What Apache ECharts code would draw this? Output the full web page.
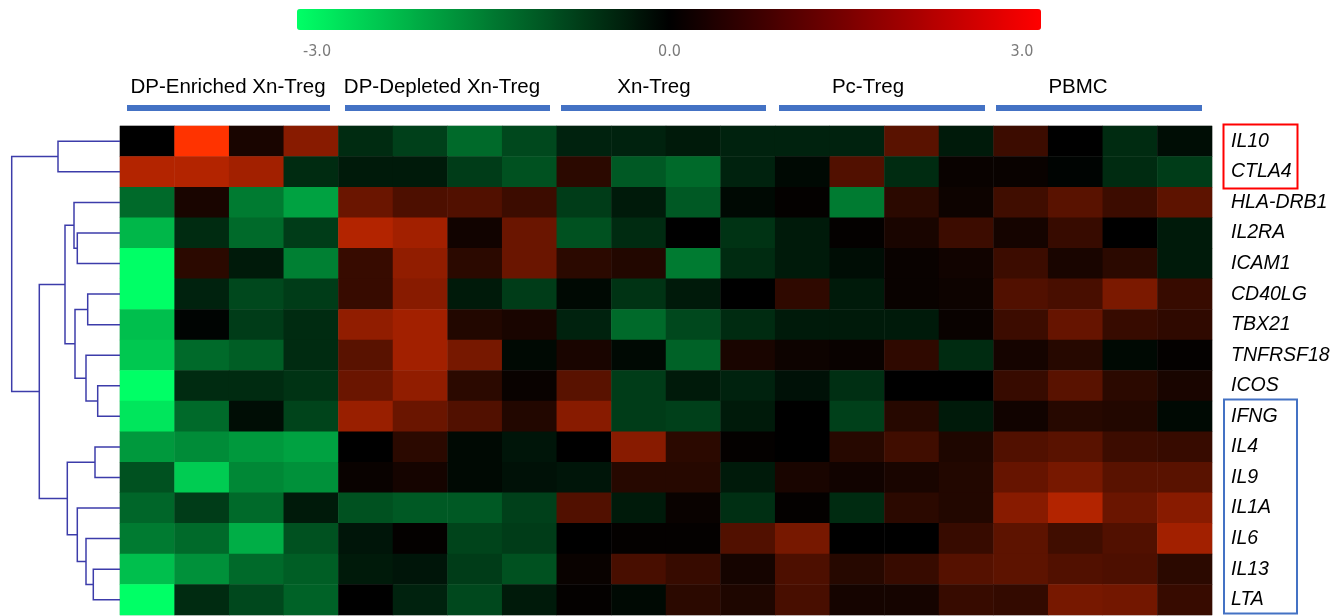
<!DOCTYPE html>
<html>
<head>
<meta charset="utf-8">
<script src="https://cdn.jsdelivr.net/npm/echarts@6/dist/echarts.min.js"></script>
<style>
  html, body { margin: 0; padding: 0; background: #fff; }
  #chart { width: 1344px; height: 616px; }
</style>
</head>
<body>
<div id="chart"></div>
<script>
// genes top → bottom (dendrogram order)
const genes = ["IL10", "CTLA4", "HLA-DRB1", "IL2RA", "ICAM1", "CD40LG", "TBX21", "TNFRSF18",
  "ICOS", "IFNG", "IL4", "IL9", "IL1A", "IL6", "IL13", "LTA"];
const groups = ["DP-Enriched Xn-Treg", "DP-Depleted Xn-Treg", "Xn-Treg", "Pc-Treg", "PBMC"];
const samples = groups.flatMap((g) => [1, 2, 3, 4].map((i) => g + " " + i));

// log2 expression, 4 replicates per group
const IL10     = [0, 3.0, 0.3, 1.6, -0.5, -0.75, -1.25, -0.85, -0.4, -0.4, -0.3, -0.4, -0.4, -0.4, 1.05, -0.3, 0.7, 0.0, -0.5, -0.15];
const CTLA4    = [2.1, 2.1, 1.9, -0.5, -0.3, -0.3, -0.7, -0.95, 0.5, -1.05, -1.25, -0.4, -0.1, 0.95, -0.5, 0.1, 0.1, -0.05, -0.5, -0.7];
const HLA_DRB1 = [-1.25, 0.3, -1.45, -1.9, 1.25, 0.9, 0.95, 0.7, -0.7, -0.3, -1.05, -0.1, 0.05, -1.45, 0.5, 0.15, 0.75, 1.05, 0.7, 1.1];
const IL2RA    = [-2.15, -0.5, -1.25, -0.7, 2.1, 1.9, 0.2, 1.25, -0.95, -0.5, 0.0, -0.6, -0.3, 0.05, 0.3, 0.7, 0.25, 0.65, 0.0, -0.3];
const ICAM1    = [-3.0, 0.5, -0.3, -1.5, 0.65, 1.7, 0.5, 1.25, 0.5, 0.4, -1.45, -0.5, -0.3, -0.15, 0.1, 0.2, 0.7, 0.3, 0.5, -0.3];
const CD40LG   = [-3.0, -0.4, -0.85, -0.7, 0.65, 1.6, -0.3, -0.7, -0.1, -0.6, -0.3, 0.0, 0.55, -0.3, 0.1, 0.15, 0.95, 0.85, 1.45, 0.65];
const TBX21    = [-2.25, -0.05, -0.7, -0.5, 1.7, 1.9, 0.4, 0.3, -0.4, -1.25, -0.85, -0.5, -0.3, -0.3, -0.3, 0.1, 0.7, 1.2, 0.65, 0.55];
const TNFRSF18 = [-2.35, -1.25, -1.1, -0.5, 1.05, 1.9, 1.4, -0.1, 0.3, -0.1, -1.15, 0.3, 0.15, 0.1, 0.55, -0.5, 0.25, 0.45, -0.1, 0.05];
const ICOS     = [-3.0, -0.5, -0.5, -0.6, 1.25, 1.7, 0.5, 0.1, 1.05, -0.7, -0.3, -0.4, -0.2, -0.55, 0.0, 0.0, 0.65, 1.05, 0.5, 0.3];
const IFNG     = [-2.7, -1.25, -0.15, -0.8, 1.8, 1.25, 0.95, 0.4, 1.6, -0.7, -0.75, -0.3, 0.0, -0.75, 0.45, -0.3, 0.2, 0.45, 0.4, -0.1];
const IL4      = [-1.8, -1.65, -1.8, -1.9, 0.0, 0.5, -0.1, -0.25, 0.0, 1.6, 0.5, 0.05, 0.0, 0.45, 0.75, 0.35, 0.95, 1.05, 0.7, 0.65];
const IL9      = [-0.95, -2.4, -1.6, -1.7, 0.1, 0.25, -0.1, -0.2, -0.25, 0.45, 0.45, -0.3, 0.3, 0.2, 0.3, 0.4, 1.2, 1.4, 1.05, 1.05];
const IL1A     = [-1.2, -0.7, -1.25, -0.3, -0.95, -1.05, -1.05, -0.75, 0.95, -0.3, 0.1, -0.55, 0.05, -0.5, 0.5, 0.4, 1.6, 2.1, 1.25, 1.6];
const IL6      = [-1.45, -1.25, -2.05, -0.95, -0.25, 0.05, -0.8, -0.7, 0.0, 0.05, 0.05, 0.95, 1.4, 0.0, 0.0, 0.65, 1.1, 0.75, 0.95, 1.9];
const IL13     = [-2.25, -1.7, -1.25, -1.1, -0.3, -0.25, -0.7, -0.95, 0.1, 0.85, 0.65, 0.25, 0.9, 0.45, 0.65, 1.0, 1.1, 0.95, 0.9, 0.5];
const LTA      = [-3.0, -0.5, -0.85, -1.15, 0.0, -0.4, -0.85, -0.3, 0.05, -0.1, 0.5, 0.35, 0.85, 0.25, 0.25, 0.65, 0.6, 1.4, 1.35, 0.65];
const matrix = [IL10, CTLA4, HLA_DRB1, IL2RA, ICAM1, CD40LG, TBX21, TNFRSF18, ICOS, IFNG, IL4, IL9, IL1A, IL6, IL13, LTA];

// row dendrogram: merge i joins dendroLeft[i] and dendroRight[i] at dendroHeight[i]; "n<k>" = merge k
const dendroLeft   = ["IL10", "IL2RA", "HLA-DRB1", "CD40LG", "ICOS", "TNFRSF18", "n3", "n2", "IL4", "IL13", "IL6", "IL1A", "n8", "n7", "n0"];
const dendroRight  = ["CTLA4", "ICAM1", "n1", "TBX21", "IFNG", "n4", "n5", "n6", "IL9", "LTA", "n9", "n10", "n11", "n12", "n13"];
const dendroHeight = [62, 42.7, 46, 32.3, 22.3, 34, 45, 55, 25, 26.7, 34, 42.7, 52.7, 80.7, 108.3];

const cells = [];
matrix.forEach((row, r) => row.forEach((v, c) => cells.push([c, r, v])));

const nodes = {};
genes.forEach((g, i) => (nodes[g] = { h: 0, y: i }));
const links = dendroHeight.map((h, i) => {
  const a = nodes[dendroLeft[i]];
  const b = nodes[dendroRight[i]];
  nodes["n" + i] = { h, y: (a.y + b.y) / 2 };
  return { coords: [[a.h, a.y], [h, a.y], [h, b.y], [b.h, b.y]] };
});

// layout of the group captions above the heatmap
const groupLabelX = [228, 442, 654, 868, 1078];
const groupBarX = [[127, 330], [345, 550], [561, 766], [779, 985], [996, 1202]];

const FONT = "'Liberation Sans', Arial, sans-serif";
const TOP = 126, HEIGHT = 489;

const graphics = [];
groups.forEach((g, i) => {
  graphics.push({
    type: "text", x: groupLabelX[i], y: 98, silent: true,
    style: { text: g, fill: "#000", font: "20.5px " + FONT, textAlign: "center", textVerticalAlign: "bottom" },
  });
  graphics.push({
    type: "rect", silent: true,
    shape: { x: groupBarX[i][0], y: 105, width: groupBarX[i][1] - groupBarX[i][0], height: 6 },
    style: { fill: "#4472c4" },
  });
});
graphics.push({ type: "rect", silent: true, shape: { x: 1223.5, y: 124.5, width: 74, height: 64 },
  style: { fill: "none", stroke: "#ff0000", lineWidth: 2 } });
graphics.push({ type: "rect", silent: true, shape: { x: 1224, y: 399.5, width: 73, height: 214 },
  style: { fill: "none", stroke: "#4472c4", lineWidth: 2 } });

const chart = echarts.init(document.getElementById("chart"), null, { renderer: "canvas" });
chart.setOption({
  animation: false,
  backgroundColor: "#fff",
  grid: [
    { left: 120, top: TOP, width: 1092, height: HEIGHT, show: true, borderColor: "#d0d0d0", borderWidth: 1 },
    { left: 0, top: TOP, width: 120, height: HEIGHT },
    { left: 317, top: 36, width: 705, height: 1 },
  ],
  xAxis: [
    { gridIndex: 0, type: "category", data: samples, show: false },
    { gridIndex: 1, type: "value", min: 0, max: 120, inverse: true, show: false },
    {
      gridIndex: 2, type: "value", min: -3, max: 3, interval: 3, position: "bottom",
      axisLine: { show: false }, axisTick: { show: false }, splitLine: { show: false },
      axisLabel: { margin: 7, color: "#7a7a7a", fontSize: 16, fontFamily: "'DejaVu Sans Condensed', 'Liberation Sans Narrow', sans-serif",
        formatter: (v) => v.toFixed(1) },
    },
  ],
  yAxis: [
    {
      gridIndex: 0, type: "category", data: genes, inverse: true, position: "right",
      axisLine: { show: false }, axisTick: { show: false }, splitLine: { show: false },
      axisLabel: { margin: 19, color: "#000", fontSize: 19.5, fontStyle: "italic", fontFamily: FONT, align: "left" },
    },
    { gridIndex: 1, type: "value", min: -0.5, max: genes.length - 0.5, inverse: true, show: false },
    { gridIndex: 2, type: "value", show: false },
  ],
  visualMap: [
    { type: "continuous", show: false, min: -3, max: 3, seriesIndex: 0,
      inRange: { color: ["#00ff66", "#000000", "#ff3300"] } },
    { type: "continuous", min: -3, max: 3, seriesIndex: 2, orient: "horizontal",
      left: 297, top: 9, padding: 0, itemWidth: 21, itemHeight: 744, calculable: false, hoverLink: false,
      inRange: { color: ["#00ff66", "#000000", "#ff0000"] } },
  ],
  series: [
    { type: "heatmap", xAxisIndex: 0, yAxisIndex: 0, data: cells, silent: true,
      itemStyle: { borderWidth: 0 }, emphasis: { disabled: true } },
    { type: "lines", coordinateSystem: "cartesian2d", xAxisIndex: 1, yAxisIndex: 1, polyline: true,
      silent: true, data: links, lineStyle: { color: "#3c3caa", width: 1.5, opacity: 1 } },
    { type: "scatter", xAxisIndex: 2, yAxisIndex: 2, data: [] },
  ],
  graphic: graphics,
});
</script>
</body>
</html>
